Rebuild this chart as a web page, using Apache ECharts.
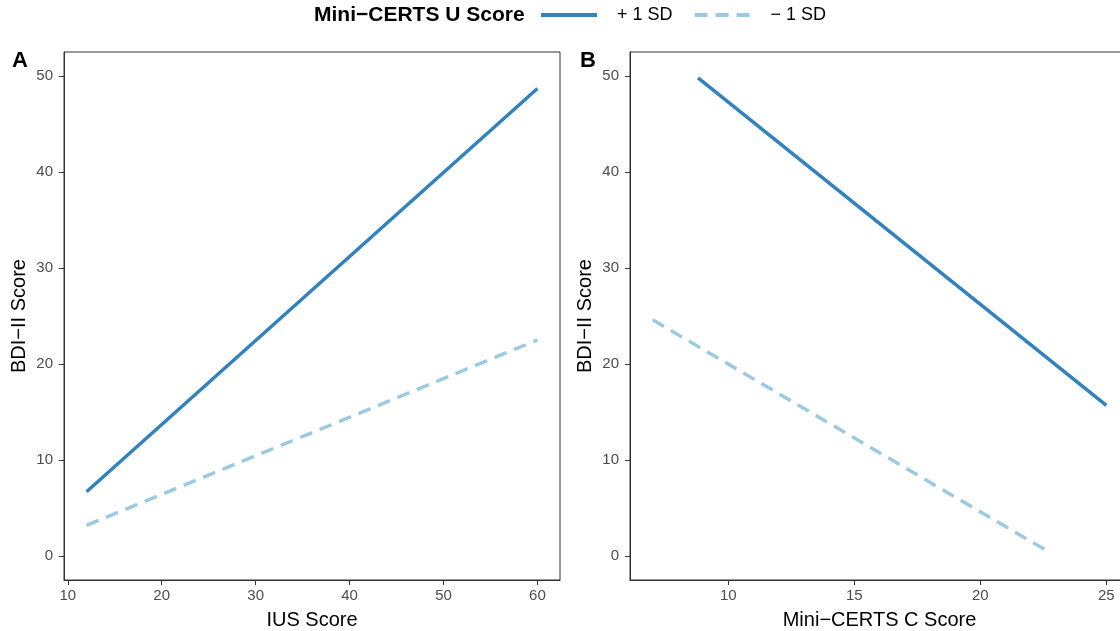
<!DOCTYPE html>
<html>
<head>
<meta charset="utf-8">
<script src="https://cdn.jsdelivr.net/npm/echarts@6/dist/echarts.min.js"></script>
<style>
  html, body { margin: 0; padding: 0; background: #fff; }
  #chart { width: 1120px; height: 631px; }
</style>
</head>
<body>
<div id="chart"></div>
<script>
const chart = echarts.init(document.getElementById('chart'));

// data: line end points
const iusX = [12, 60];
const iusHigh = [6.7, 48.7];
const iusLow = [3.2, 22.5];

const certsHighX = [8.8, 25];
const certsHigh = [49.8, 15.7];
const certsLowX = [7, 22.8];
const certsLow = [24.6, 0.3];

const yTicks = [0, 10, 20, 30, 40, 50];
const xTicksA = [10, 20, 30, 40, 50, 60];
const xTicksB = [10, 15, 20, 25];

const seriesNames = ['+ 1 SD', '\u2212 1 SD'];
const colHigh = '#3182bd';
const colLow = '#9ecae1';

const font = 'Liberation Sans, Arial, sans-serif';

function pairs(xs, ys) {
  return xs.map((x, i) => [x, ys[i]]);
}

function yAxis(idx) {
  return {
    type: 'value', gridIndex: idx, min: -2.5, max: 52.5,
    name: 'BDI\u2212II Score', nameLocation: 'middle', nameGap: 35,
    nameTextStyle: { color: '#000', fontSize: 20, fontFamily: font },
    splitLine: { show: false },
    axisLine: { show: true, lineStyle: { color: '#333', width: 1 } },
    axisTick: { show: true, length: 5, customValues: yTicks, lineStyle: { color: '#333' } },
    axisLabel: { customValues: yTicks, color: '#4d4d4d', fontSize: 15, margin: 11, fontFamily: font }
  };
}

function xAxis(idx, min, max, ticks, name) {
  return {
    type: 'value', gridIndex: idx, min: min, max: max,
    name: name, nameLocation: 'middle', nameGap: 30,
    nameTextStyle: { color: '#000', fontSize: 20, fontFamily: font },
    splitLine: { show: false },
    axisLine: { show: true, onZero: false, lineStyle: { color: '#333', width: 1 } },
    axisTick: { show: true, length: 5, customValues: ticks, lineStyle: { color: '#333' } },
    axisLabel: { customValues: ticks, color: '#4d4d4d', fontSize: 15, margin: 8, fontFamily: font }
  };
}

function line(name, idx, data, color, dashed) {
  return {
    name: name, type: 'line', xAxisIndex: idx, yAxisIndex: idx,
    data: data, symbol: 'none', silent: true,
    lineStyle: { color: color, width: 3.5, type: dashed ? [13, 8] : 'solid' },
    itemStyle: { color: color }
  };
}

const option = {
  animation: false,
  backgroundColor: '#fff',
  textStyle: { fontFamily: font },
  grid: [
    { left: 64, right: 560, top: 52, bottom: 51, containLabel: false, outerBoundsMode: 'none',
      show: true, borderColor: '#333', borderWidth: 1 },
    { left: 630, right: -9, top: 52, bottom: 51, containLabel: false, outerBoundsMode: 'none',
      show: true, borderColor: '#333', borderWidth: 1 }
  ],
  legend: {
    data: seriesNames,
    left: 539, top: 6, padding: 0,
    itemWidth: 56, itemHeight: 16, itemGap: 20,
    itemStyle: { opacity: 0 },
    lineStyle: { width: 4 },
    textStyle: { color: '#000', fontSize: 18, fontFamily: font, padding: [0, 0, 0, 15] }
  },
  graphic: [
    { type: 'text', left: 314, top: 5, style: { text: 'Mini\u2212CERTS U Score', font: 'bold 21px ' + font, fill: '#000' } },
    { type: 'text', left: 12, top: 50, style: { text: 'A', font: 'bold 22px ' + font, fill: '#000' } },
    { type: 'text', left: 580, top: 50, style: { text: 'B', font: 'bold 22px ' + font, fill: '#000' } }
  ],
  xAxis: [
    xAxis(0, 9.6, 62.4, xTicksA, 'IUS Score'),
    xAxis(1, 6.1, 25.9, xTicksB, 'Mini\u2212CERTS C Score')
  ],
  yAxis: [yAxis(0), yAxis(1)],
  series: [
    line(seriesNames[0], 0, pairs(iusX, iusHigh), colHigh, false),
    line(seriesNames[1], 0, pairs(iusX, iusLow), colLow, true),
    line(seriesNames[0], 1, pairs(certsHighX, certsHigh), colHigh, false),
    line(seriesNames[1], 1, pairs(certsLowX, certsLow), colLow, true)
  ]
};

chart.setOption(option);
</script>
</body>
</html>
